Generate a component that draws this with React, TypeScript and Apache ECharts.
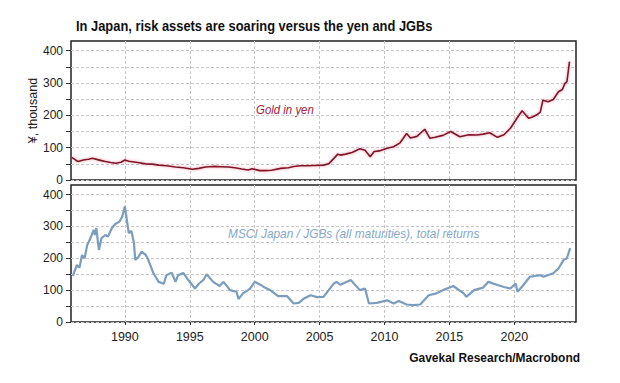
import React, { useEffect, useRef } from "react";
import * as echarts from "echarts";

const titleText = "In Japan, risk assets are soaring versus the yen and JGBs";
const sourceText = "Gavekal Research/Macrobond";
const goldLabel = "Gold in yen";
const msciLabel = "MSCI Japan / JGBs (all maturities), total returns";
const yAxisName = "¥, thousand";

const yearTicks = [1990, 1995, 2000, 2005, 2010, 2015, 2020];
const yTicks = [0, 50, 100, 150, 200, 250, 300, 350, 400];
const yLabels = [0, 100, 200, 300, 400];

const goldYears = [
  1985.9, 1986.2, 1986.4, 1986.8, 1987.2, 1987.5, 1987.9, 1988.2, 1988.5, 1988.9,
  1989.3, 1989.7, 1990.0, 1990.3, 1991.0, 1991.6, 1992.1, 1992.6, 1993.2, 1993.9,
  1994.5, 1995.2, 1995.7, 1996.2, 1996.8, 1997.4, 1998.0, 1998.6, 1999.0, 1999.5,
  1999.8, 2000.4, 2000.8, 2001.3, 2002.0, 2002.6, 2003.0, 2003.5, 2004.0, 2004.6,
  2005.3, 2005.7, 2006.1, 2006.4, 2006.6, 2007.0, 2007.5, 2007.9, 2008.1, 2008.5,
  2008.9, 2009.2, 2009.6, 2010.2, 2010.7, 2011.2, 2011.7, 2012.0, 2012.5, 2013.1,
  2013.5, 2013.9, 2014.5, 2015.1, 2015.8, 2016.5, 2017.1, 2017.6, 2018.1, 2018.7,
  2019.2, 2019.7, 2020.2, 2020.6, 2020.9, 2021.1, 2021.4, 2021.7, 2022.0, 2022.2,
  2022.6, 2023.0, 2023.4, 2023.7, 2023.9, 2024.05, 2024.25,
];
const goldValues = [
  70, 62, 57, 62, 64, 67, 63, 60, 57, 54,
  52, 55, 62, 58, 54, 50, 49, 46, 44, 40,
  38, 33, 36, 40, 42, 41, 40, 37, 34, 31,
  35, 29, 29, 30, 36, 38, 42, 44, 44, 45,
  46, 50, 67, 80, 77, 80, 85, 93, 97, 92,
  72, 88, 90, 98, 103, 115, 144, 130, 135, 157,
  129, 132, 138, 150, 134, 140, 139, 142, 146, 132,
  140, 160, 191, 214, 200, 191, 195, 201, 210, 247,
  242, 249, 273, 280, 299, 304, 366,
];

const msciYears = [
  1986.0, 1986.3, 1986.5, 1986.7, 1986.9, 1987.1, 1987.3, 1987.6, 1987.7, 1987.8,
  1988.0, 1988.2, 1988.5, 1988.7, 1989.0, 1989.25, 1989.6, 1989.8, 1990.0, 1990.15,
  1990.3, 1990.5, 1990.7, 1990.8, 1991.05, 1991.3, 1991.6, 1991.8, 1992.2, 1992.6,
  1993.0, 1993.2, 1993.6, 1993.9, 1994.1, 1994.5, 1994.9, 1995.4, 1995.7, 1996.05,
  1996.3, 1996.8, 1997.3, 1997.6, 1998.1, 1998.6, 1998.75, 1999.1, 1999.65, 2000.0,
  2000.4, 2000.7, 2001.2, 2001.8, 2002.5, 2003.0, 2003.4, 2003.8, 2004.3, 2004.8,
  2005.3, 2006.1, 2006.3, 2006.6, 2007.4, 2008.1, 2008.5, 2008.8, 2009.4, 2010.2,
  2010.7, 2011.1, 2011.7, 2012.2, 2012.75, 2013.4, 2014.0, 2014.5, 2015.3, 2016.1,
  2016.3, 2016.9, 2017.6, 2018.0, 2018.7, 2019.2, 2019.7, 2020.1, 2020.25, 2020.7,
  2021.2, 2022.0, 2022.25, 2023.0, 2023.4, 2023.8, 2024.05, 2024.3,
];
const msciValues = [
  145, 179, 170, 210, 200, 242, 258, 289, 273, 295,
  226, 263, 273, 268, 295, 307, 316, 331, 363, 321,
  279, 286, 247, 195, 205, 221, 211, 195, 153, 126,
  120, 147, 155, 126, 147, 154, 131, 105, 120, 132,
  150, 126, 113, 126, 100, 95, 72, 90, 105, 126,
  118, 110, 100, 81, 81, 58, 60, 74, 84, 78,
  79, 121, 126, 117, 132, 100, 105, 58, 60, 68,
  58, 66, 55, 53, 55, 84, 90, 100, 113, 90,
  79, 100, 108, 126, 116, 110, 105, 121, 95, 116,
  142, 147, 142, 153, 168, 195, 200, 232,
];

const FONT = "'Liberation Sans', Arial, sans-serif";

export default function App() {
  const ref = useRef<HTMLDivElement>(null);
  useEffect(() => {
    if (!ref.current) return;
    const chart = echarts.init(ref.current, null, { renderer: "svg" });
    const xMin = 1985.85;
    const xMax = 2024.75;
    const mkX = (gridIndex: number, showLabels: boolean) => ({
      type: "value",
      gridIndex,
      min: xMin,
      max: xMax,
      axisLine: { show: false },
      axisTick: {
        show: showLabels,
        customValues: yearTicks,
        length: 3,
        lineStyle: { color: "#333" },
      },
      axisLabel: {
        show: showLabels,
        customValues: yearTicks,
        formatter: (v: number) => String(v),
        color: "#222",
        fontFamily: FONT,
        fontSize: 12.5,
        margin: 8,
      },
      splitLine: {
        show: true,
        lineStyle: { color: "#c8c8c8", type: [3, 2], width: 1 },
      },
    });
    const mkY = (gridIndex: number, name?: string) => ({
      type: "value",
      gridIndex,
      min: 0,
      max: 430,
      name,
      nameLocation: "middle",
      nameGap: 32,
      nameMoveOverlap: false,
      nameTextStyle: { color: "#222", fontFamily: FONT, fontSize: 12.5 },
      axisLine: { show: false },
      axisTick: {
        show: true,
        customValues: yTicks,
        length: 5,
        lineStyle: { color: "#333" },
      },
      axisLabel: {
        customValues: yLabels,
        formatter: (v: number) => String(v),
        color: "#222",
        fontFamily: FONT,
        fontSize: 12,
        margin: 8,
      },
      splitLine: {
        show: true,
        lineStyle: { color: "#c8c8c8", type: [3, 2], width: 1 },
      },
    });
    chart.setOption({
      animation: false,
      backgroundColor: "#ffffff",
      grid: [
        { left: 71, top: 41, width: 505, height: 139, show: true, borderColor: "#222", borderWidth: 1.5, backgroundColor: "transparent" },
        { left: 71, top: 185, width: 505, height: 137, show: true, borderColor: "#222", borderWidth: 1.5, backgroundColor: "transparent" },
      ],
      xAxis: [mkX(0, false), mkX(1, true)],
      yAxis: [mkY(0, yAxisName), mkY(1)],
      series: [
        {
          type: "line",
          xAxisIndex: 0,
          yAxisIndex: 0,
          data: goldYears.map((y, i) => [y, goldValues[i]]),
          showSymbol: false,
          lineStyle: {
            color: "#7d1228",
            width: 1.6,
            shadowColor: "rgba(225,80,110,0.6)",
            shadowBlur: 3,
          },
        },
        {
          type: "line",
          xAxisIndex: 1,
          yAxisIndex: 1,
          data: msciYears.map((y, i) => [y, msciValues[i]]),
          showSymbol: false,
          lineStyle: { color: "#7b9dbd", width: 2.2 },
        },
      ],
      graphic: [
        {
          type: "text",
          x: 76,
          y: 26,
          scaleX: 0.86,
          style: {
            text: titleText,
            fill: "#111",
            font: `bold 15px ${FONT}`,
            align: "left",
            verticalAlign: "middle",
          },
        },
        {
          type: "text",
          x: 256,
          y: 110,
          scaleX: 0.88,
          style: {
            text: goldLabel,
            fill: "#a3243f",
            font: `italic 13px ${FONT}`,
            align: "left",
            verticalAlign: "middle",
          },
        },
        {
          type: "text",
          x: 228,
          y: 234,
          scaleX: 0.95,
          style: {
            text: msciLabel,
            fill: "#86a7c6",
            font: `italic 12.5px ${FONT}`,
            align: "left",
            verticalAlign: "middle",
          },
        },
        {
          type: "text",
          x: 580,
          y: 358,
          scaleX: 0.92,
          style: {
            text: sourceText,
            fill: "#111",
            font: `bold 13px ${FONT}`,
            align: "right",
            verticalAlign: "middle",
          },
        },
      ],
    });
    return () => chart.dispose();
  }, []);
  return (
    <div
      ref={ref}
      style={{ position: "absolute", left: 0, top: 0, width: 620, height: 383 }}
    />
  );
}
